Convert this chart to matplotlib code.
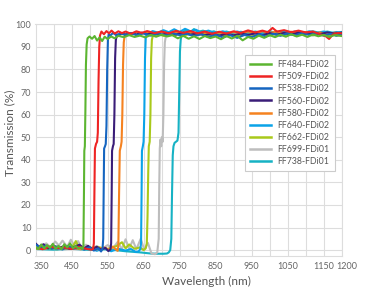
"""
Transmission spectra of long-pass dichroic beamsplitters (FF484 ... FF738).
Saves the chart to out.png.
"""
import matplotlib.pyplot as plt
from matplotlib.transforms import ScaledTranslation

# ---- data (wavelength nm, transmission %) ----
WL_484 = [350, 358, 366, 374, 382, 390, 398, 406, 414, 422, 430, 438, 446, 454, 462, 470, 476, 481,
          483, 484.5, 485.5, 487, 488.5, 490, 492, 494.5,
          500, 507, 514, 521, 528, 535, 542, 550, 560, 570, 580, 595, 610, 625, 640, 655, 670, 685,
          700, 715, 730, 745, 760, 775, 790, 805, 820, 835, 850, 865, 880, 895, 910, 925, 940, 955,
          970, 985, 1000, 1015, 1030, 1045, 1060, 1075, 1090, 1105, 1120, 1135, 1150, 1165, 1180, 1200]
T_484 = [1.5, 0.5, 2.5, 0.8, 2.2, 1.0, 2.8, 0.6, 1.9, 0.4, 2.6, 1.2, 3.0, 0.9, 1.8, 0.7, 1.2, 0.5,
         2, 25, 44, 46, 62, 82, 91, 93.8,
         94.6, 93.6, 94.8, 92.8, 94.2, 92.6, 94.5, 93.5, 94.6, 93.8, 94.9, 94.3, 95.2, 94.4, 95.0, 94.2, 95.3, 94.5,
         95.4, 94.6, 95.2, 93.8, 94.9, 93.6, 94.7, 93.5, 94.8, 93.9, 94.6, 93.4, 94.8, 93.7, 94.9, 92.9, 94.4, 93.6,
         95.0, 94.0, 95.2, 94.3, 95.4, 94.5, 95.6, 94.6, 95.4, 94.4, 95.5, 94.7, 95.3, 94.4, 95.2, 94.8]

WL_509 = [350, 370, 390, 410, 430, 450, 470, 490, 505, 510,
          512, 513.5, 515, 518, 521, 523, 525, 527, 529,
          533, 540, 547, 554, 561, 570, 580, 590, 600, 615, 630, 645, 660, 680, 700, 720, 740, 760,
          780, 800, 820, 840, 860, 880, 900, 920, 940, 960, 980, 995, 1008, 1020, 1040, 1060, 1080,
          1100, 1120, 1140, 1155, 1165, 1175, 1190, 1200]
T_509 = [1.0, 0.4, 1.6, 0.8, 1.2, 0.5, 1.5, 0.6, 0.2, 0.5,
         3, 25, 45, 47, 48, 52, 75, 90, 95,
         96.8, 95.6, 97.0, 96.0, 97.2, 95.9, 96.9, 96.1, 96.8, 95.8, 96.9, 96.2, 97.0, 96.1, 96.8, 96.0, 97.1, 96.2,
         97.0, 96.0, 96.8, 95.8, 96.7, 95.9, 96.9, 96.2, 97.3, 96.4, 97.2, 96.5, 98.4, 96.8, 97.4, 96.5, 97.2,
         96.4, 96.8, 95.6, 94.8, 93.5, 95.4, 96.2, 96.0]

WL_538 = [350, 365, 380, 395, 410, 425, 440, 455, 470, 485, 500, 512, 524, 532, 536,
          538, 539.5, 540.5, 543, 545, 547, 549, 551, 553,
          558, 565, 575, 585, 600, 615, 630, 650, 670, 690, 710, 730, 750, 770, 790, 810, 830, 850,
          870, 890, 910, 930, 950, 970, 990, 1010, 1030, 1050, 1070, 1090, 1110, 1130, 1150, 1170, 1185, 1200]
T_538 = [2.5, 1.0, 2.0, 0.6, 1.6, 0.3, 1.8, 0.8, 1.4, 0.2, 1.2, -0.2, 0.8, -0.6, 0.5,
         5, 30, 45, 46, 47, 55, 80, 93, 95.5,
         95.0, 96.2, 95.1, 96.0, 95.3, 96.2, 95.2, 96.0, 95.0, 95.9, 95.1, 96.1, 95.2, 95.8, 94.8, 95.6, 94.4, 95.4,
         94.2, 95.2, 94.0, 95.3, 94.3, 95.6, 94.6, 95.8, 94.9, 96.0, 95.1, 96.2, 95.3, 96.1, 95.0, 95.8, 94.9, 95.6]

WL_560 = [350, 360, 372, 385, 400, 415, 430, 445, 460, 472, 484, 496, 508, 520, 532, 544, 552, 558,
          560, 561.5, 562.5, 565, 567, 569, 571, 573, 576,
          582, 590, 600, 615, 630, 645, 660, 680, 700, 720, 740, 760, 780, 800, 820, 840, 860, 880,
          900, 920, 940, 960, 980, 1000, 1020, 1040, 1060, 1080, 1100, 1120, 1140, 1160, 1180, 1200]
T_560 = [3.0, 1.5, 2.6, 0.8, 2.0, 1.0, 1.8, 0.5, 1.6, 2.4, 0.8, 1.9, 0.4, 1.5, 0.2, 1.0, -0.4, 0.3,
         3, 25, 44, 46, 47, 60, 85, 93, 95.5,
         95.2, 96.0, 95.4, 96.1, 95.5, 96.3, 95.6, 96.2, 95.4, 96.1, 95.5, 96.3, 95.4, 96.0, 95.2, 95.9, 95.0, 95.8,
         95.1, 95.9, 95.3, 96.0, 95.2, 96.1, 95.4, 96.2, 95.5, 96.3, 95.6, 96.2, 95.7, 96.4, 95.9, 96.3]

WL_580 = [350, 375, 400, 425, 450, 475, 500, 520, 540, 555, 565, 572, 578,
          580, 582, 584, 587, 589, 591, 593, 595, 598,
          605, 615, 630, 645, 660, 680, 700, 720, 740, 760, 780, 800, 820, 840, 860, 880, 900, 920,
          940, 960, 980, 1000, 1020, 1040, 1060, 1080, 1100, 1120, 1140, 1160, 1180, 1200]
T_580 = [1.2, 0.6, 1.4, 0.5, 1.1, 0.4, 1.0, 0.3, 1.2, 0.2, 1.6, 0.4, -0.3,
         2, 25, 44, 46, 48, 60, 82, 92, 95.5,
         96.2, 95.6, 96.5, 95.8, 96.6, 95.9, 96.7, 95.8, 96.6, 95.9, 96.5, 95.7, 96.4, 95.6, 96.5, 95.8, 96.6, 96.0,
         96.8, 96.1, 96.9, 96.2, 96.8, 96.0, 96.7, 95.9, 96.6, 95.8, 96.4, 95.5, 96.3, 95.9]

WL_640 = [350, 380, 410, 440, 470, 500, 520, 540, 560, 580, 600, 615, 628, 636, 641,
          643, 644.5, 645.5, 648, 650, 652, 654, 656, 659,
          665, 675, 690, 705, 720, 735, 750, 765, 780, 795, 810, 830, 850, 870, 890, 910, 930, 950,
          970, 990, 1010, 1030, 1050, 1070, 1090, 1110, 1130, 1150, 1170, 1185, 1200]
T_640 = [0.8, 1.5, 0.4, 1.2, 0.6, 1.0, -0.3, 0.8, -0.5, 0.6, -0.2, 0.5, -0.8, -0.6, 0.5,
         3, 25, 44, 46, 48, 60, 85, 94, 96.5,
         96.0, 97.0, 96.3, 97.4, 96.5, 97.8, 96.6, 98.0, 96.9, 97.6, 96.4, 97.2, 96.1, 96.9, 95.9, 96.8, 96.0, 96.7,
         95.8, 96.6, 95.9, 96.7, 96.0, 96.8, 96.1, 96.9, 96.2, 96.8, 96.0, 96.6, 96.2]

WL_662 = [350, 380, 410, 440, 455, 462, 470, 490, 520, 550, 575, 590, 600, 610, 625, 640, 650, 656,
          659, 661, 663, 664.5, 667, 669, 671, 673, 676,
          682, 692, 705, 720, 735, 750, 765, 780, 800, 820, 840, 860, 880, 900, 920, 940, 960, 980,
          1000, 1020, 1040, 1060, 1080, 1100, 1120, 1140, 1160, 1180, 1200]
T_662 = [0.5, 1.0, 0.4, 1.2, 2.0, 4.0, 1.0, 0.6, 1.4, 0.5, 1.8, 3.5, 0.8, 2.5, 0.6, 1.2, 0.0, 0.8,
         3, 15, 35, 46, 48, 60, 85, 93, 95.2,
         94.8, 95.6, 94.9, 95.7, 95.0, 95.8, 95.1, 95.9, 95.2, 95.8, 94.9, 95.6, 94.8, 95.5, 94.9, 95.7, 95.0, 95.8,
         95.1, 95.9, 95.2, 96.0, 95.3, 95.9, 95.2, 95.8, 95.0, 95.7, 95.3]

WL_699 = [350, 365, 380, 392, 405, 415, 425, 438, 448, 458, 468, 478, 490, 505, 520, 535, 550, 565,
          578, 590, 600, 610, 620, 630, 642, 652, 662, 672, 682, 688,
          692, 693.5, 695, 697, 699, 701, 703, 705, 707, 709, 713,
          720, 735, 750, 765, 780, 800, 820, 840, 860, 880, 900, 920, 940, 960, 980, 1000, 1020,
          1040, 1060, 1080, 1100, 1120, 1140, 1160, 1180, 1200]
T_699 = [0.8, 1.6, 3.0, 1.2, 3.8, 2.0, 4.2, 1.5, 4.6, 2.0, 4.0, 1.2, 2.4, 0.8, 1.8, 0.6, 2.2, 0.8,
         3.6, 0.5, 4.8, 0.6, 4.4, 0.4, 5.0, 0.2, 3.2, -1.5, -1.8, -1.0,
         5, 28, 45, 49, 46, 50, 48, 60, 82, 92, 95.8,
         96.2, 95.6, 96.5, 95.8, 96.6, 95.9, 96.5, 95.7, 96.4, 95.6, 96.3, 95.5, 96.2, 95.4, 96.1, 95.3, 96.0,
         95.2, 95.9, 95.1, 95.8, 95.0, 95.7, 95.0, 95.6, 95.2]

WL_738 = [350, 400, 450, 500, 550, 600, 640, 670, 690, 705, 715, 720, 724,
          727, 729, 731, 733, 736, 740, 744, 747, 749, 751, 753, 756,
          762, 770, 780, 790, 800, 815, 830, 845, 860, 880, 900, 920, 940, 960, 980, 1000, 1020,
          1040, 1060, 1080, 1100, 1120, 1140, 1160, 1180, 1200]
T_738 = [0.5, 0.2, 0.6, 0.1, 0.4, -0.5, -1.0, -1.5, -1.6, -1.6, -1.5, -1.0, 0.0,
         5, 25, 42, 46, 47.5, 48, 48.5, 52, 70, 88, 93, 95.8,
         96.8, 97.6, 96.5, 97.9, 96.6, 97.2, 96.2, 96.9, 96.0, 96.8, 95.9, 96.7, 96.0, 96.8, 96.1, 96.9, 96.2,
         96.8, 96.0, 96.7, 96.1, 96.9, 96.2, 96.8, 96.1, 96.6]

LABELS = ["FF484-FDi02", "FF509-FDi02", "FF538-FDi02", "FF560-FDi02", "FF580-FDi02",
          "FF640-FDi02", "FF662-FDi02", "FF699-FDi01", "FF738-FDi01"]
COLORS = ["#5cb531", "#ee2424", "#1565c0", "#3a1d78", "#f58220",
          "#0aa3e8", "#a9c91a", "#bdbdbd", "#16b2c4"]

X_TICKS = [350, 450, 550, 650, 750, 850, 950, 1050, 1150, 1200]
Y_TICKS = [0, 10, 20, 30, 40, 50, 60, 70, 80, 90, 100]

SERIES = [(WL_484, T_484), (WL_509, T_509), (WL_538, T_538), (WL_560, T_560), (WL_580, T_580),
          (WL_640, T_640), (WL_662, T_662), (WL_699, T_699), (WL_738, T_738)]

plt.rcParams["font.family"] = ["Lato", "DejaVu Sans"]
TEXT = "#555555"
GRID = "#dddddd"


def main():
    fig = plt.figure(figsize=(3.65, 2.97), dpi=100)
    ax = fig.add_axes([35.5 / 365, 1 - 256 / 297, 306.2 / 365, 231.7 / 297])

    n = len(SERIES)
    for i, ((wl, t), label, color) in enumerate(zip(SERIES, LABELS, COLORS)):
        # first legend entry drawn on top
        ax.plot(wl, t, color=color, lw=1.5, label=label, zorder=3 + n - i)

    ax.set_xlim(350, 1200)
    ax.set_ylim(-2.6, 100)
    ax.set_xticks(X_TICKS)
    ax.set_yticks(Y_TICKS)
    ax.set_xticks(range(400, 1200, 50), minor=True)
    ax.grid(True, which="both", color=GRID, lw=0.8, zorder=0)
    ax.set_axisbelow(True)
    ax.tick_params(which="both", length=0, labelsize=6.5, labelcolor="#666666")
    ax.tick_params(axis="x", pad=4)
    ax.tick_params(axis="y", pad=3)
    for s in ax.spines.values():
        s.set_color(GRID)
        s.set_linewidth(0.8)

    # the end labels sit a little to the right of their ticks
    fig.canvas.draw()
    xlabels = ax.get_xticklabels()
    shift = ScaledTranslation(5.5 / 100, 0, fig.dpi_scale_trans)
    for lab in (xlabels[0], xlabels[-1]):
        lab.set_transform(lab.get_transform() + shift)

    ax.set_xlabel("Wavelength (nm)", fontsize=8.5, color=TEXT)
    ax.xaxis.set_label_coords(0.557, -0.085)
    ax.set_ylabel("Transmission (%)", fontsize=8.5, color=TEXT)
    ax.yaxis.set_label_coords(-0.066, 0.53)

    leg = ax.legend(loc="upper left", bbox_to_anchor=(0.684, 0.867), fontsize=6.3,
                    frameon=True, fancybox=False, edgecolor="#cccccc", framealpha=1,
                    handlelength=2.4, handletextpad=0.7, labelspacing=0.35,
                    borderpad=0.6, borderaxespad=0)
    leg.get_frame().set_linewidth(0.8)
    for txt in leg.get_texts():
        txt.set_color(TEXT)
    for line in leg.get_lines():
        line.set_linewidth(1.8)

    fig.savefig("out.png", dpi=100)
    plt.close(fig)


if __name__ == "__main__":
    main()
